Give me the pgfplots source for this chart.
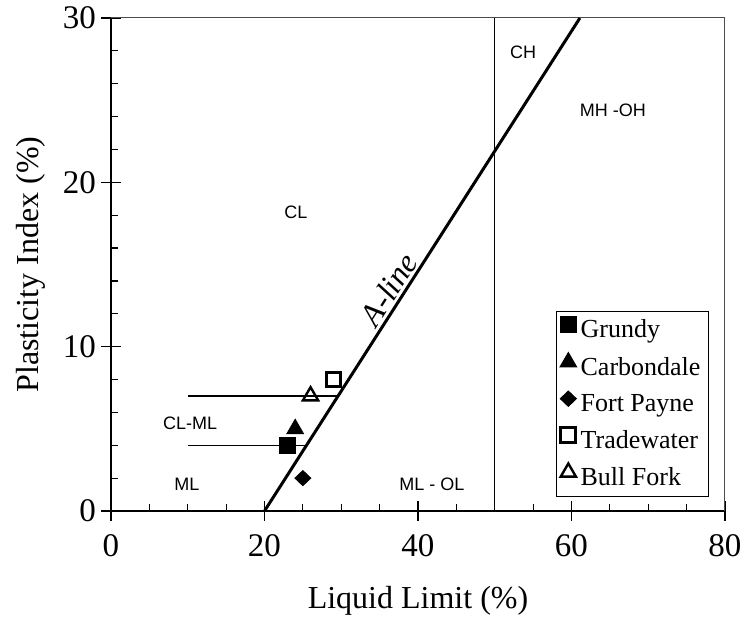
\documentclass[border=0pt]{standalone}
\usepackage{fontspec}
\setmainfont{Liberation Serif}
\newfontfamily\arial{Liberation Sans}
\usepackage{pgfplots}
\usetikzlibrary{calc}
\pgfplotsset{compat=1.18}
\begin{document}
\begin{tikzpicture}
\begin{axis}[
  scale only axis,
  width=307pt, height=246.5pt,
  xmin=0, xmax=80, ymin=0, ymax=30,
  axis x line*=bottom, axis y line*=left,
  axis line style={line width=0.75pt, -},
  xtick={0,20,...,80}, ytick={0,10,20,30},
  minor xtick={5,10,...,75}, minor ytick={2,4,...,28},
  tick pos=left,
  tick align=inside,
  major tick length=5pt, minor tick length=3.5pt,
  every tick/.style={black, line width=0.6pt},
  extra x ticks={0,20,40,60,80}, extra x tick labels={},
  extra x tick style={tick align=outside, major tick length=5pt},
  extra y ticks={0,10,20,30}, extra y tick labels={},
  extra y tick style={tick align=outside, major tick length=5pt},
  /pgf/number format/assume math mode=true,
  ticklabel style={font=\fontsize{16.5}{18}\selectfont},
  xticklabel style={yshift=-8pt},
  yticklabel style={xshift=-4pt},
  label style={font=\fontsize{16}{18}\selectfont},
  xlabel={Liquid Limit (\%)},
  ylabel={Plasticity Index (\%)},
  xlabel style={yshift=-3pt},
  ylabel style={yshift=-3pt},
  legend style={at={(axis description cs:1,0)}, anchor=south east,
    xshift=-8pt, yshift=7pt, draw=black, line width=0.5pt,
    font=\fontsize{13}{15.5}\selectfont, row sep=4pt,
    inner xsep=2pt, inner ysep=2pt},
  legend cell align=left,
  legend image code/.code={\draw[#1, mark repeat=1] plot coordinates {(0.23cm,0.1cm)};},
]
\coordinate (O) at (rel axis cs:0,0);
% borders top/right
\draw[line width=0.5pt, black!70] (rel axis cs:0,1) -- (rel axis cs:1,1) -- (rel axis cs:1,0);
% A-line and boundaries
\addplot[forget plot, black, line width=1.5pt] coordinates {(20,0) (61.096,30)};
\addplot[forget plot, black, line width=0.7pt] coordinates {(50,0) (50,30)};
\addplot[forget plot, black, line width=0.6pt] coordinates {(10,4) (25.48,4)};
\addplot[forget plot, black, line width=0.6pt] coordinates {(10,7) (29.59,7)};
% data
\addplot[only marks, mark=square*, mark size=4pt, black] coordinates {(23,4)};
\addlegendentry{Grundy}
\addplot[only marks, mark=triangle*, mark size=4.8pt, black] coordinates {(24,5)};
\addlegendentry{Carbondale}
\addplot[only marks, mark=diamond*, mark size=3.8pt, black, mark options={xscale=1.4}] coordinates {(25,2)};
\addlegendentry{Fort Payne}
\addplot[only marks, mark=square, mark size=3.7pt, black, mark options={line width=1.5pt}] coordinates {(29,8)};
\addlegendentry{Tradewater}
\addplot[only marks, mark=triangle, mark size=4.4pt, black, mark options={line width=1.2pt}] coordinates {(26,7)};
\addlegendentry{Bull Fork}
% region labels
\node[font=\arial\fontsize{9}{10}\selectfont] at (axis cs:53.7,27.9) {CH};
\node[font=\arial\fontsize{9}{10}\selectfont] at (axis cs:65.4,24.4) {MH -OH};
\node[font=\arial\fontsize{9}{10}\selectfont] at (axis cs:24.1,18.2) {CL};
\node[font=\arial\fontsize{9}{10}\selectfont] at (axis cs:10.3,5.35) {CL-ML};
\node[font=\arial\fontsize{9}{10}\selectfont] at (axis cs:9.9,1.65) {ML};
\node[font=\arial\fontsize{9}{10}\selectfont] at (axis cs:41.8,1.65) {ML - OL};
\node[font=\itshape\fontsize{16}{18}\selectfont, rotate=57.4, anchor=south, inner sep=1.5pt] at (axis cs:37.8,13.0) {A-line};
\end{axis}
\pgfresetboundingbox
\path[use as bounding box] ($(O)+(-55.5pt,-54.5pt)$) rectangle ++(373pt,310pt);
\end{tikzpicture}
\end{document}
